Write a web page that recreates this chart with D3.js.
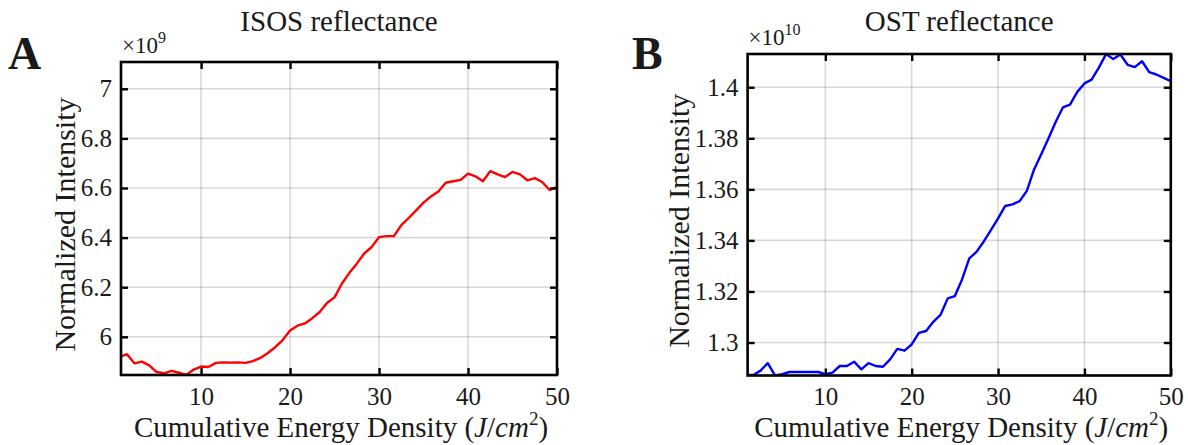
<!DOCTYPE html>
<html>
<head>
<meta charset="utf-8">
<script src="https://cdn.jsdelivr.net/npm/d3@7.9.0/dist/d3.min.js"></script>
<style>
  body { margin: 0; background: #fff; }
  svg { display: block; }
  svg text, svg tspan { font-family: "Liberation Serif", "DejaVu Serif", serif !important; fill: #1a1a1a; }
</style>
</head>
<body>
<svg id="chart" width="1188" height="445" font-family="Liberation Serif"></svg>
<script>
// cumulative energy density (J/cm^2) at each frame
const energy = [0.83, 1.67, 2.5, 3.33, 4.17, 5, 5.83, 6.67, 7.5, 8.33, 9.17, 10, 10.83, 11.67, 12.5,
  13.33, 14.17, 15, 15.83, 16.67, 17.5, 18.33, 19.17, 20, 20.83, 21.67, 22.5, 23.33, 24.17, 25,
  25.83, 26.67, 27.5, 28.33, 29.17, 30, 30.83, 31.67, 32.5, 33.33, 34.17, 35, 35.83, 36.67, 37.5,
  38.33, 39.17, 40, 40.83, 41.67, 42.5, 43.33, 44.17, 45, 45.83, 46.67, 47.5, 48.33, 49.17, 50];

// ISOS reflectance, x 1e9
const isosValues = [5.918, 5.930, 5.893, 5.900, 5.885, 5.858, 5.853, 5.863, 5.855, 5.846,
  5.868, 5.880, 5.878, 5.895, 5.897, 5.896, 5.897, 5.895, 5.902, 5.915,
  5.935, 5.958, 5.987, 6.025, 6.045, 6.054, 6.075, 6.100, 6.137, 6.159,
  6.215, 6.258, 6.295, 6.336, 6.362, 6.402, 6.406, 6.406, 6.450, 6.479,
  6.510, 6.541, 6.566, 6.586, 6.621, 6.627, 6.633, 6.658, 6.647, 6.627,
  6.668, 6.655, 6.644, 6.665, 6.655, 6.631, 6.640, 6.624, 6.592, 6.604];

// OST reflectance, x 1e10
const ostValues = [1.2873, 1.2873, 1.2890, 1.2919, 1.2871, 1.2876, 1.28845, 1.28845, 1.28845, 1.28845,
  1.28845, 1.2876, 1.2882, 1.2908, 1.2908, 1.2925, 1.2895, 1.2919, 1.2908, 1.2905,
  1.2934, 1.2975, 1.2968, 1.2993, 1.3038, 1.3045, 1.3081, 1.3108, 1.3173, 1.3182,
  1.3247, 1.3330, 1.3355, 1.3395, 1.3440, 1.3486, 1.3535, 1.3541, 1.3554, 1.3594,
  1.3678, 1.3738, 1.3799, 1.3864, 1.3921, 1.3932, 1.3982, 1.4015, 1.4030, 1.4077,
  1.4130, 1.4111, 1.4128, 1.4088, 1.4079, 1.4102, 1.4059, 1.4050, 1.4037, 1.4024];

const xLim = [1, 50];
const xTicks = [10, 20, 30, 40, 50];
const isosYLim = [5.846, 7.108];
const isosYTicks = [6, 6.2, 6.4, 6.6, 6.8, 7];
const ostYLim = [1.28708, 1.41303];
const ostYTicks = [1.3, 1.32, 1.34, 1.36, 1.38, 1.4];

const svg = d3.select('#chart');

function drawPanel(opt) {
  const { left, right, top, bottom } = opt.box;
  const w = right - left, h = bottom - top;

  let x = d3.scaleLinear().domain(xLim).range([left, right]);
  let y = d3.scaleLinear().domain(opt.yLim).range([bottom, top]);

  const g = svg.append('g');

  g.append('clipPath').attr('id', 'clip-' + opt.id)
    .append('rect').attr('x', left).attr('y', top).attr('width', w).attr('height', h);

  // grid
  g.append('g').selectAll('line').data(xTicks).join('line')
    .attr('x1', d => x(d)).attr('x2', d => x(d))
    .attr('y1', top).attr('y2', bottom)
    .attr('stroke', '#000').attr('stroke-opacity', 0.15).attr('stroke-width', 1.6);
  g.append('g').selectAll('line').data(opt.yTicks).join('line')
    .attr('y1', d => y(d)).attr('y2', d => y(d))
    .attr('x1', left).attr('x2', right)
    .attr('stroke', '#000').attr('stroke-opacity', 0.15).attr('stroke-width', 1.6);

  // data line
  let line = d3.line().x((d, i) => x(energy[i])).y(d => y(d));
  g.append('path')
    .datum(opt.values)
    .attr('clip-path', `url(#clip-${opt.id})`)
    .attr('d', line)
    .attr('fill', 'none')
    .attr('stroke', opt.color)
    .attr('stroke-width', 2.4)
    .attr('stroke-linejoin', 'round');

  // axes, ticks pointing in
  const fmt = d3.format('~g');
  const axB = g.append('g').attr('transform', `translate(0,${bottom})`)
    .call(d3.axisBottom(x).tickValues(xTicks).tickSizeInner(-7).tickSizeOuter(0).tickPadding(12).tickFormat(fmt));
  const axL = g.append('g').attr('transform', `translate(${left},0)`)
    .call(d3.axisLeft(y).tickValues(opt.yTicks).tickSizeInner(-7).tickSizeOuter(0).tickPadding(9).tickFormat(fmt));
  const axT = g.append('g').attr('transform', `translate(0,${top})`)
    .call(d3.axisTop(x).tickValues(xTicks).tickSizeInner(-7).tickSizeOuter(0).tickFormat(''));
  const axR = g.append('g').attr('transform', `translate(${right},0)`)
    .call(d3.axisRight(y).tickValues(opt.yTicks).tickSizeInner(-7).tickSizeOuter(0).tickFormat(''));
  [axB, axL, axT, axR].forEach(a => {
    a.attr('font-family', 'Liberation Serif');
    a.select('.domain').remove();
    a.selectAll('.tick line').attr('stroke', '#000').attr('stroke-width', 2.4);
    a.selectAll('.tick text').attr('font-size', 25).attr('fill', '#1a1a1a');
  });

  g.append('rect')
    .attr('x', left).attr('y', top).attr('width', w).attr('height', h)
    .attr('fill', 'none').attr('stroke', '#000').attr('stroke-width', 2.6);

  // exponent
  const ex = g.append('text').attr('x', left + 1).attr('y', top - 9).attr('font-size', 23);
  ex.append('tspan').text('\u00d710');
  ex.append('tspan').attr('font-size', 16).attr('dy', -10).text(opt.exponent);

  // title
  g.append('text')
    .attr('x', (left + right) / 2).attr('y', 31)
    .attr('text-anchor', 'middle').attr('font-size', 29)
    .text(opt.title);

  // y label
  g.append('text')
    .attr('transform', `translate(${opt.yLabelX},${(top + bottom) / 2 + 6}) rotate(-90)`)
    .attr('text-anchor', 'middle').attr('font-size', 30)
    .text('Normalized Intensity');

  // x label
  const xl = g.append('text')
    .attr('x', (left + right) / 2 + 2).attr('y', 437)
    .attr('text-anchor', 'middle').attr('font-size', 29);
  xl.append('tspan').text('Cumulative Energy Density (');
  xl.append('tspan').attr('font-style', 'italic').text('J');
  xl.append('tspan').text('/');
  xl.append('tspan').attr('font-style', 'italic').text('cm');
  xl.append('tspan').attr('font-size', 19).attr('dy', -12).text('2');
  xl.append('tspan').attr('dy', 12).text(')');

  // panel letter
  svg.append('text')
    .attr('x', opt.letterX).attr('y', 69)
    .attr('font-size', 46).attr('font-weight', 'bold').attr('fill', '#000')
    .text(opt.letter);
}

drawPanel({
  id: 'isos', title: 'ISOS reflectance', letter: 'A', letterX: 8,
  values: isosValues, yLim: isosYLim, yTicks: isosYTicks, exponent: '9',
  color: '#ff0000', yLabelX: 75,
  box: { left: 121, right: 557, top: 62, bottom: 375 }
});

drawPanel({
  id: 'ost', title: 'OST reflectance', letter: 'B', letterX: 632,
  values: ostValues, yLim: ostYLim, yTicks: ostYTicks, exponent: '10',
  color: '#0000ff', yLabelX: 689,
  box: { left: 747.6, right: 1170.8, top: 54, bottom: 375.5 }
});
</script>
</body>
</html>
